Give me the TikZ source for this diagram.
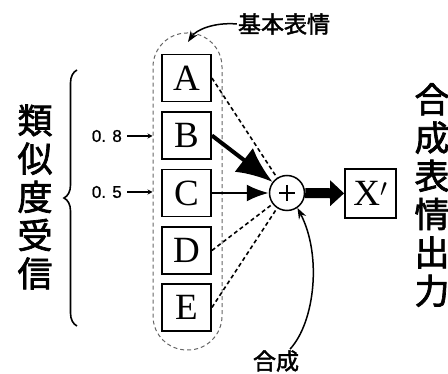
\documentclass[tikz,border=0pt]{standalone}
\usepackage{fontspec}
\setmainfont{Liberation Serif}
\newfontfamily\cjk[FakeBold=2]{Noto Sans CJK JP}
\newfontfamily\cjkb[FakeBold=2]{Noto Sans CJK JP}
\newfontfamily\numf[FakeBold=1]{Liberation Sans}
\usetikzlibrary{arrows.meta,decorations.pathreplacing,calc}
\begin{document}
\begin{tikzpicture}[x=1pt,y=-1pt,
  letterbox/.style={draw,line width=1.8pt,minimum width=49pt,minimum height=47pt,inner sep=0pt,
    font=\fontsize{37}{37}\selectfont},
  dashconn/.style={line width=1.6pt,dash pattern=on 4pt off 3pt},
  numlabel/.style={font=\numf\fontsize{17}{17}\selectfont,anchor=east,inner sep=0pt},
  numarrow/.style={line width=1.3pt,-{Stealth[length=5pt,width=5pt]}},
  bigtext/.style={font=\cjk\fontsize{35}{38.3}\selectfont,align=center,inner sep=0pt},
  smalllabel/.style={font=\cjkb\fontsize{23}{23}\selectfont,inner sep=1pt},
  curvearrow/.style={line width=1.5pt,-{Stealth[length=11pt,width=8pt]}}
]
\useasboundingbox (0,0) rectangle (448,374);

% group outline
\node[draw=black!60,dash pattern=on 4pt off 3pt,line width=1pt,rounded corners=34pt,
  minimum width=69pt,minimum height=317pt,inner sep=0pt] (grp) at (187.5,191.5) {};

% letter boxes
\node[letterbox] (A) at (186.5,78) {A};
\node[letterbox] (B) at (186.5,135.5) {B};
\node[letterbox] (C) at (186.5,193) {C};
\node[letterbox] (D) at (186.5,250.5) {D};
\node[letterbox] (E) at (186.5,307.5) {E};

% sum node
\node[draw,circle,line width=1.5pt,minimum size=35pt,inner sep=0pt] (sum) at (287,193) {};
\draw[line width=2pt] ($(sum.center)+(-8,0)$) -- ($(sum.center)+(8,0)$);
\draw[line width=2pt] ($(sum.center)+(0,-8)$) -- ($(sum.center)+(0,8)$);

% output box
\node[letterbox,minimum width=51pt,minimum height=49pt] (X) at (370.5,193.5) {X$'$};

% connectors
\draw[dashconn] (A.east) -- (sum);
\draw[dashconn] (D.east) -- (sum);
\draw[dashconn] (E.east) -- (sum);
\draw[line width=4pt,-{Latex[length=36pt,width=30pt]}] (B.east) -- (sum);
\draw[line width=2.5pt,-{Latex[length=22pt,width=17pt]}] (C.east) -- (sum);
\draw[line width=10pt,-{Triangle[length=14pt,width=25pt]}] (sum) -- (X);

% weights
\node[numlabel] (n8) at (122,136) {0. 8};
\node[numlabel] (n5) at (122,192) {0. 5};
\draw[numarrow] ([xshift=5pt]n8.east) -- (grp.west |- n8.east);
\draw[numarrow] ([xshift=5pt]n5.east) -- (grp.west |- n5.east);

% brace
\coordinate (bb) at (77,326);
\coordinate (bt) at (77,70);
\draw[decorate,decoration={brace,amplitude=13pt},line width=1.6pt] (bb) -- (bt);

% vertical texts
\node[bigtext] (left) at (35,197) {類\\似\\度\\受\\信};
\node[bigtext] (right) at (432,195) {合\\成\\表\\情\\出\\力};

% labels
\node[smalllabel] (kihon) at (284,24) {基本表情};
\node[smalllabel] (gosei) at (276,361) {合成};
\coordinate (ktip) at (188,42);
\draw[curvearrow] (kihon.west) .. controls (214,22) and (196,30) .. (ktip);
\draw[curvearrow] ([xshift=14pt]gosei.north) .. controls (315,322) and (322,255) .. (sum.-55);
\end{tikzpicture}
\end{document}
